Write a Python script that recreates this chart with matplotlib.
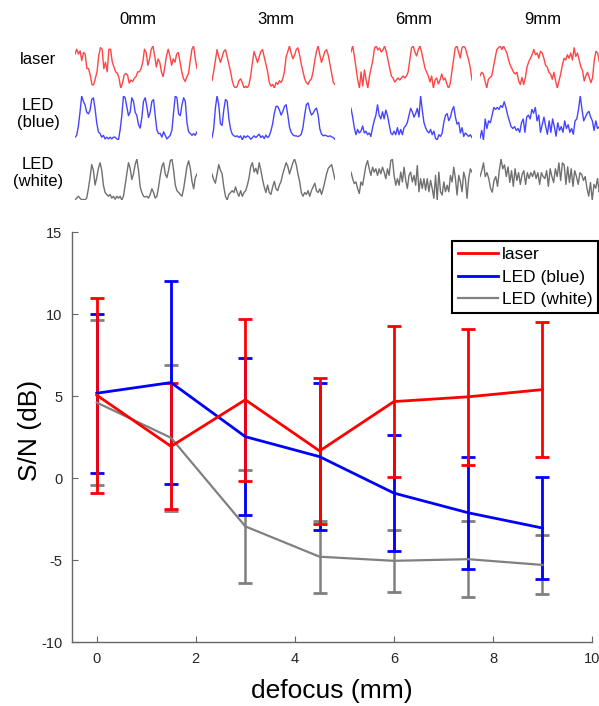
import numpy as np
import matplotlib
matplotlib.use("Agg")
from matplotlib import pyplot as plt

plt.rcParams["font.family"] = ["Liberation Sans", "DejaVu Sans"]
plt.rcParams["axes.unicode_minus"] = False

# S/N vs defocus
defocus = [0, 1.5, 3, 4.5, 6, 7.5, 9]
laser_sn = [5.05, 1.93, 4.77, 1.65, 4.66, 4.95, 5.39]
laser_err = [5.95, 3.85, 4.95, 4.45, 4.6, 4.15, 4.1]
blue_sn = [5.17, 5.82, 2.52, 1.3, -0.92, -2.12, -3.05]
blue_err = [4.85, 6.2, 4.78, 4.5, 3.52, 3.42, 3.1]
white_sn = [4.6, 2.45, -2.95, -4.8, -5.05, -4.95, -5.3]
white_err = [5.05, 4.45, 3.45, 2.2, 1.9, 2.3, 1.8]

# example traces (arbitrary intensity units), columns 0/3/6/9 mm
col_labels = ["0mm", "3mm", "6mm", "9mm"]
row_labels = ["laser", "LED\n(blue)", "LED\n(white)"]

laser_0 = [105, 120, 105, 115, 85, 110, 105, 60, 60, 40, 10, 10, 30, 50, 100, 125, 120, 60, 80, 50,
           120, 120, 80, 65, 50, 45, 30, 0, 15, 40, 45, 40, 15, 25, 20, 30, 35, 50, 50, 60,
           80, 120, 110, 70, 90, 120, 130, 100, 65, 90, 80, 50, 35, 65, 100, 120, 100, 70, 90, 80,
           105, 110, 80, 50, 30, 20, 35, 45, 85, 120, 130, 90, 60]
laser_3 = [25, 50, 80, 110, 90, 75, 90, 105, 110, 90, 70, 50, 25, 10, 5, 10, 25, 30, 20, 5,
           10, 5, 15, 40, 75, 105, 90, 75, 90, 105, 110, 90, 70, 50, 20, 10, 15, 5, 20, 15,
           25, 20, 30, 50, 90, 105, 120, 100, 85, 95, 110, 115, 95, 70, 50, 30, 20, 15, 25, 30,
           50, 80, 105, 120, 95, 75, 90, 105, 110, 95, 70, 45, 20, 15]
laser_6 = [100, 115, 90, 60, 30, 10, 50, 15, 55, 30, 10, 40, 60, 80, 110, 115, 105, 110, 100, 105,
           115, 100, 80, 60, 40, 35, 25, 30, 35, 30, 35, 40, 35, 40, 50, 80, 110, 115, 100, 90,
           105, 115, 100, 80, 60, 50, 40, 25, 40, 10, 30, 35, 20, 30, 45, 30, 35, 20, 10, 20,
           50, 80, 110, 115, 100, 85, 110, 115, 110, 95, 80, 60, 30]
laser_9 = [35, 45, 40, 20, 0, 25, 30, 35, 60, 85, 110, 115, 120, 110, 120, 110, 100, 80, 65, 55,
           45, 40, 45, 20, 10, 30, 10, 30, 60, 75, 85, 95, 110, 95, 100, 85, 105, 100, 85, 65,
           60, 45, 40, 25, 45, 20, 0, 20, 40, 65, 85, 80, 95, 85, 100, 80, 115, 90, 100, 80,
           60, 50, 20, 35, 45, 30, 15, 30, 80, 105, 100, 75, 85]

blue_0 = [10, 15, 40, 80, 125, 110, 100, 80, 75, 85, 115, 120, 90, 50, 25, 20, 10, 15, 5, 10,
          5, 10, 5, 10, 10, 5, 2, 30, 70, 125, 120, 95, 70, 80, 120, 110, 80, 70, 45, 35,
          65, 110, 120, 95, 65, 80, 110, 115, 70, 30, 20, 20, 10, 25, 15, 5, 10, 15, 30, 80,
          125, 120, 75, 70, 100, 120, 110, 50, 25, 20, 15, 20, 15, 25]
blue_3 = [10, 35, 95, 130, 105, 50, 45, 90, 120, 115, 65, 35, 20, 15, 13, 15, 10, 15, 3, 15,
          10, 15, 12, 5, 10, 15, 10, 15, 20, 10, 15, 7, 17, 10, 15, 30, 50, 80, 100, 100,
          90, 75, 85, 100, 105, 75, 40, 25, 18, 15, 15, 13, 15, 20, 40, 75, 105, 110, 90, 75,
          80, 90, 95, 75, 35, 20, 15, 17, 15, 13, 15, 12, 10, 5]
blue_6 = [93, 68, 38, 18, 33, 23, 28, 43, 23, 28, 18, 23, 13, 38, 58, 73, 103, 73, 63, 83,
          63, 88, 73, 48, 23, 18, 28, 18, 38, 18, 33, 18, 38, 43, 53, 73, 93, 83, 68, 78,
          93, 68, 128, 88, 53, 38, 28, 23, 33, 18, 28, 8, 3, 18, 13, 23, 53, 73, 78, 58,
          68, 88, 98, 68, 48, 53, 23, 38, 13, 23, 18, 13, 18, 10]
blue_9 = [10, 30, 5, 60, 35, 55, 50, 70, 90, 85, 90, 85, 95, 90, 105, 90, 70, 55, 40, 35,
          40, 30, 35, 25, 50, 60, 25, 65, 70, 60, 85, 75, 90, 55, 70, 25, 45, 65, 40, 20,
          55, 25, 60, 40, 15, 50, 30, 40, 25, 55, 35, 45, 25, 35, 20, 55, 60, 85, 120, 85,
          55, 65, 75, 80, 65, 55, 30, 55, 35, 40, 35]

white_0 = [5, 10, 15, 10, 5, 7, 5, 10, 35, 65, 100, 85, 45, 65, 90, 105, 85, 45, 25, 20,
           15, 20, 10, 15, 7, 15, 10, 15, 5, 15, 45, 75, 105, 90, 60, 75, 100, 115, 85, 40,
           25, 15, 13, 15, 10, 20, 35, 25, 10, 15, 40, 70, 95, 105, 75, 65, 85, 110, 115, 85,
           45, 30, 25, 20, 15, 35, 65, 95, 110, 90, 55, 35, 65, 75]
white_3 = [75, 60, 50, 75, 100, 85, 75, 40, 15, 5, 20, 25, 30, 25, 40, 25, 15, 30, 15, 25,
           30, 45, 65, 95, 105, 80, 90, 75, 105, 85, 60, 40, 25, 45, 25, 20, 40, 55, 35, 30,
           45, 55, 75, 90, 105, 95, 75, 90, 105, 115, 100, 75, 55, 25, 15, 25, 20, 30, 15, 30,
           40, 50, 30, 25, 35, 20, 35, 55, 75, 90, 95, 100, 80, 60]
white_6 = [90, 70, 55, 60, 40, 25, 60, 50, 80, 110, 125, 100, 80, 105, 90, 100, 80, 100, 85, 105,
           90, 70, 100, 80, 125, 130, 80, 50, 70, 50, 90, 60, 105, 65, 40, 80, 90, 60, 80, 50,
           110, 30, 70, 40, 70, 35, 70, 30, 65, 40, 10, 80, 5, 90, 30, 20, 60, 30, 50, 30,
           80, 60, 105, 70, 20, 80, 60, 30, 90, 70, 10, 70, 100, 90]
white_9 = [65, 80, 100, 65, 75, 60, 35, 25, 55, 65, 40, 80, 110, 85, 95, 65, 90, 50, 80, 40,
           85, 55, 75, 45, 70, 80, 45, 75, 60, 75, 65, 80, 60, 75, 45, 75, 65, 60, 80, 40,
           85, 65, 50, 85, 65, 100, 55, 100, 95, 45, 90, 50, 85, 40, 80, 65, 45, 75, 70, 55,
           65, 35, 15, 50, 5, 45, 35, 60, 25, 50]

traces = [[laser_0, laser_3, laser_6, laser_9],
          [blue_0, blue_3, blue_6, blue_9],
          [white_0, white_3, white_6, white_9]]
trace_colors = ["#ff4545", "#4545ff", "#707070"]

W, H = 599, 706
fig = plt.figure(figsize=(W / 100, H / 100), dpi=100)


def box(x0, y0, x1, y1):
    # pixel box (top-left origin) -> figure fraction
    return [x0 / W, 1 - y1 / H, (x1 - x0) / W, (y1 - y0) / H]


col_px = [(75, 197), (212, 335), (351, 472), (480, 601)]
row_px = [(46, 88), (96, 140), (159, 200)]
row_label_y = [60, 114, 173]

for i, row in enumerate(traces):
    for j, sig in enumerate(row):
        x0, x1 = col_px[j]
        y0, y1 = row_px[i]
        a = fig.add_axes(box(x0, y0, x1, y1))
        a.plot(np.arange(len(sig)), sig, color=trace_colors[i], lw=1.0)
        a.set_xlim(0, len(sig) - 1)
        a.set_ylim(min(sig), max(sig))
        a.axis("off")
    fig.text(38 / W, 1 - row_label_y[i] / H, row_labels[i], ha="center", va="center",
             fontsize=12, linespacing=1.2)

for j, lab in enumerate(col_labels):
    fig.text((col_px[j][0] + col_px[j][1]) / 2 / W + 2 / W, 1 - 19 / H, lab,
             ha="center", va="center", fontsize=12)

# main S/N plot
ax = fig.add_axes(box(72, 232, 592, 642))
ekw = dict(capsize=5, capthick=2)
ax.errorbar(defocus, white_sn, yerr=white_err, color="#808080", lw=1.6, elinewidth=1.8, **ekw)
ax.errorbar(defocus, blue_sn, yerr=blue_err, color="#0000ff", lw=2.0, elinewidth=2.0, **ekw)
ax.errorbar(defocus, laser_sn, yerr=laser_err, color="#ff0000", lw=2.0, elinewidth=2.0, **ekw)

h_laser, = ax.plot([], [], color="#ff0000", lw=2.0)
h_blue, = ax.plot([], [], color="#0000ff", lw=2.0)
h_white, = ax.plot([], [], color="#808080", lw=1.6)
leg = ax.legend([h_laser, h_blue, h_white], ["laser", "LED (blue)", "LED (white)"],
                loc="upper right", bbox_to_anchor=(1.012, 0.978), borderaxespad=0,
                fontsize=12.5, fancybox=False, framealpha=1, handlelength=2.3,
                handletextpad=0.2, borderpad=0.35, labelspacing=0.42)
leg.get_frame().set_edgecolor("black")
leg.get_frame().set_linewidth(1.5)

ax.set_xlim(-0.5, 10)
ax.set_ylim(-10, 15)
ax.set_xticks(np.arange(0, 11, 2))
ax.set_yticks(np.arange(-10, 16, 5))
for s in ["top", "right"]:
    ax.spines[s].set_visible(False)
for s in ["left", "bottom"]:
    ax.spines[s].set_color("#666666")
    ax.spines[s].set_linewidth(1.0)
ax.tick_params(direction="in", length=4, color="#666666", labelcolor="#262626",
               labelsize=10.5, pad=7)
ax.set_xlabel("defocus (mm)", fontsize=19)
ax.set_ylabel("S/N (dB)", fontsize=19)
ax.xaxis.set_label_coords(0.5, -0.09)
ax.yaxis.set_label_coords(-0.058, 0.515)

fig.savefig("out.png", dpi=100)
